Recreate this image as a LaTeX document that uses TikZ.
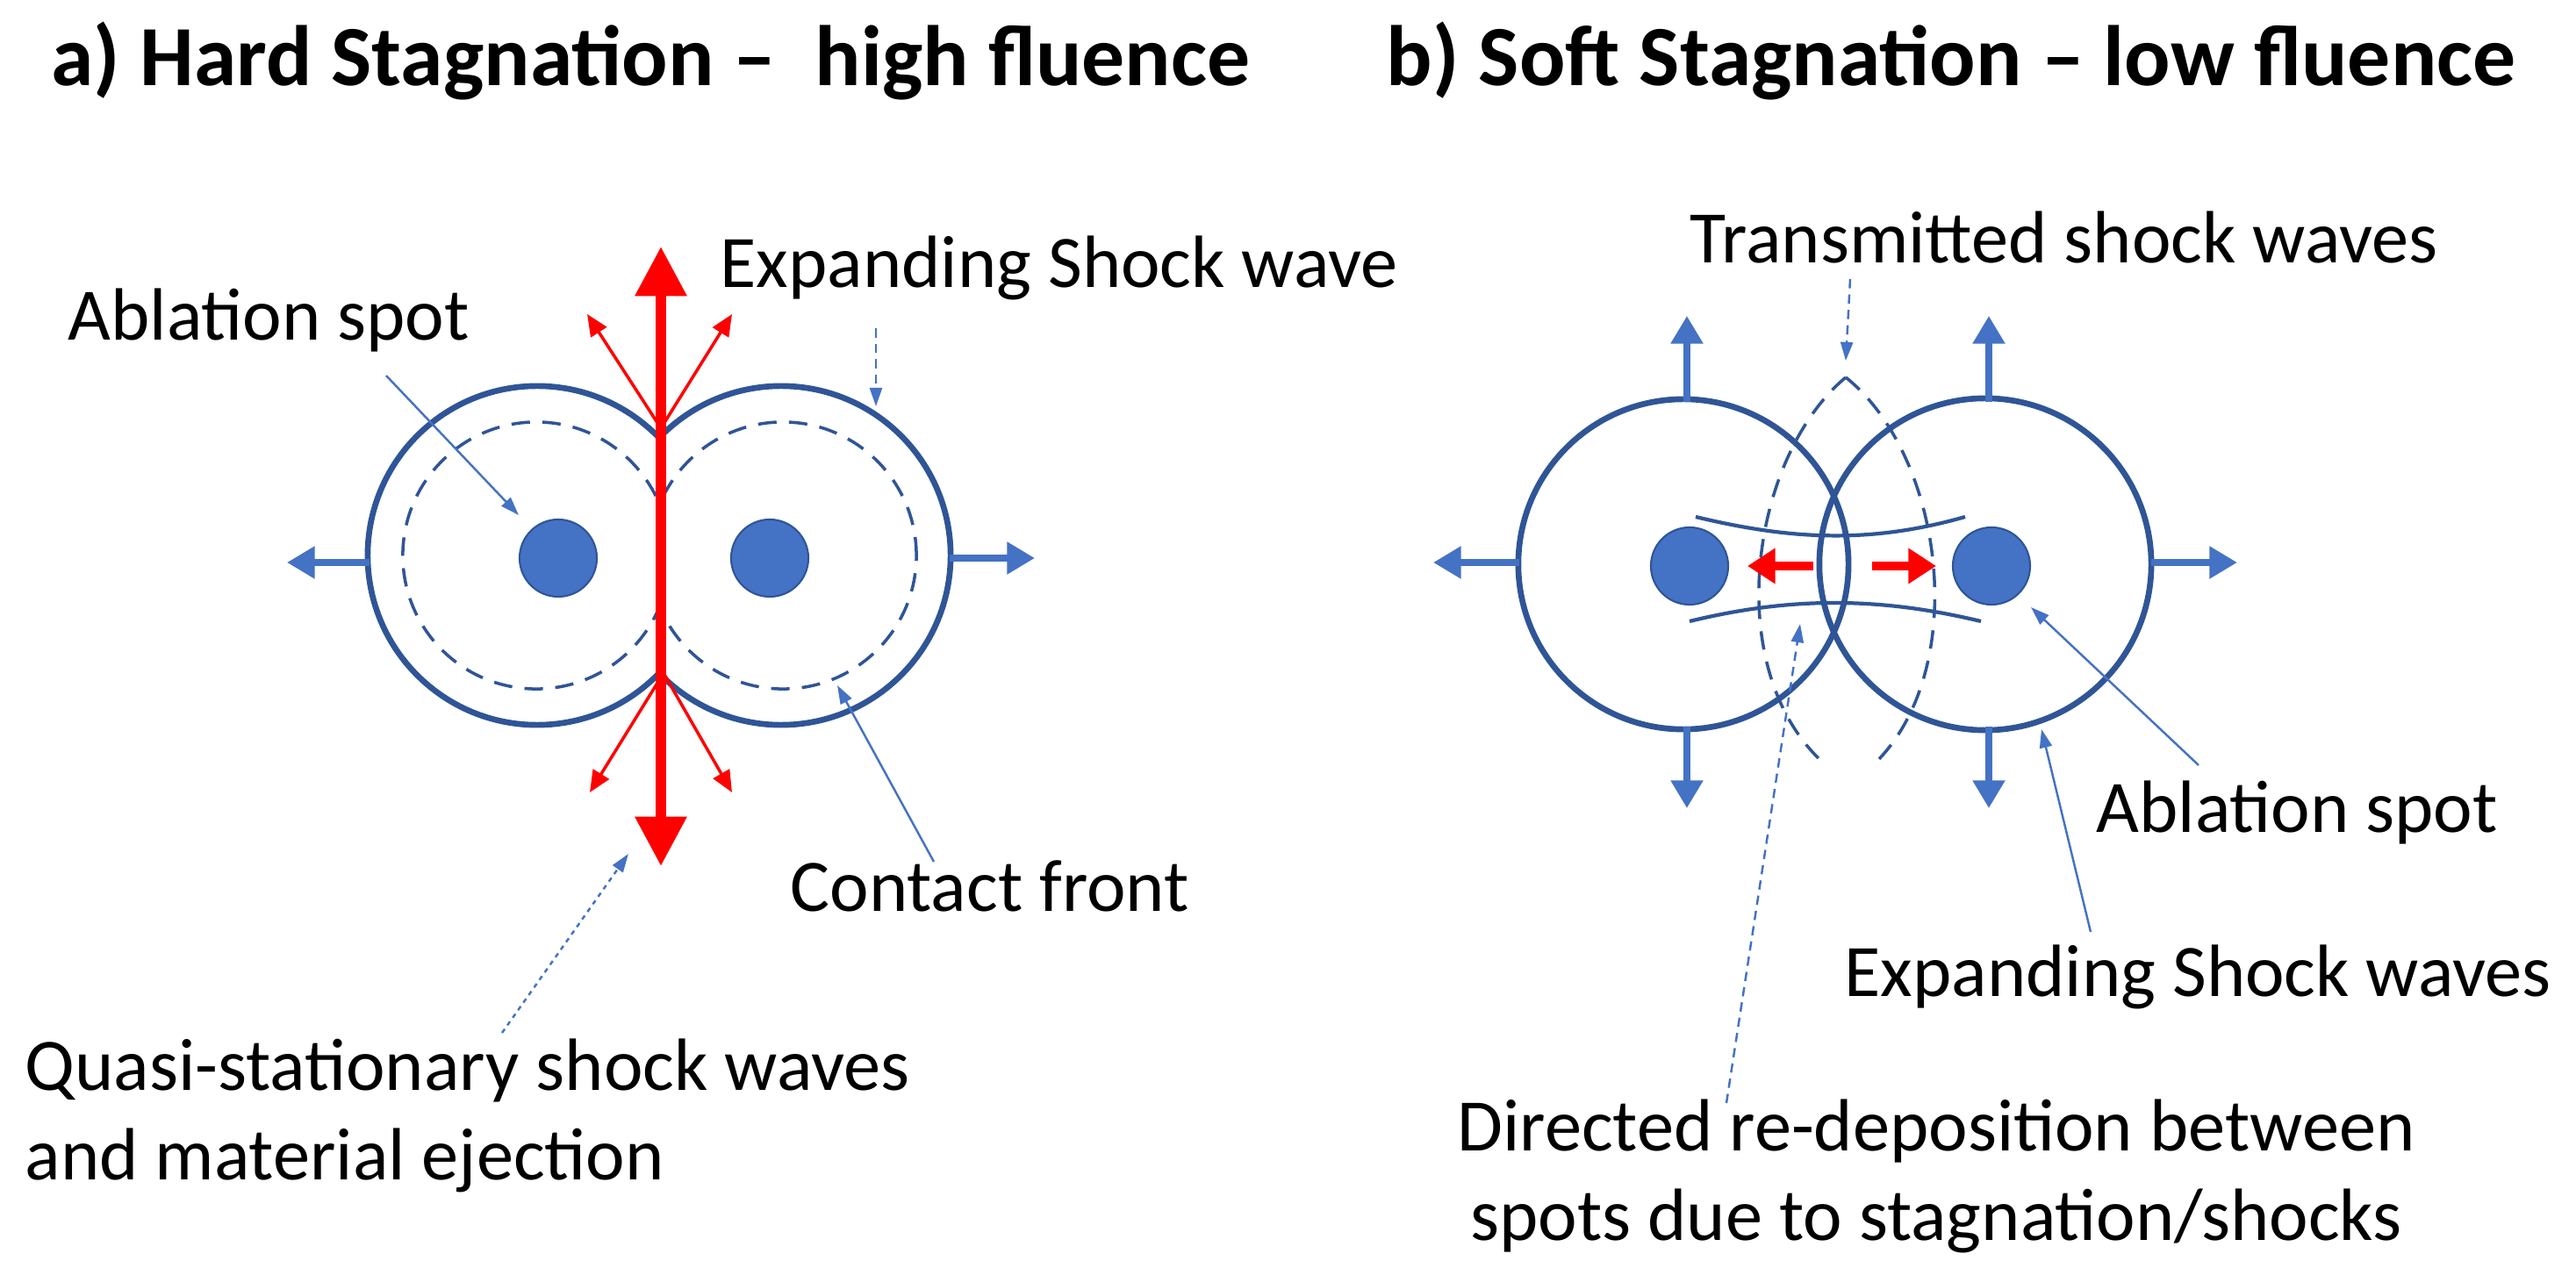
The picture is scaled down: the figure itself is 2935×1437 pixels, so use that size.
\documentclass[tikz,border=0pt]{standalone}
\usepackage{fontspec}
\setmainfont{Carlito}
\usetikzlibrary{arrows.meta}
\definecolor{ring}{HTML}{2F5597}
\definecolor{spotc}{HTML}{4472C4}
\definecolor{redc}{HTML}{FF0000}
\begin{document}
\begin{tikzpicture}[x=0.01cm,y=-0.01cm,
  ring/.style={draw=ring,line width=1.9pt},
  dring/.style={draw=ring,line width=1pt,dash pattern=on 6pt off 4pt},
  spot/.style={circle,fill=spotc,draw=ring,line width=0.6pt,minimum size=0.88cm,inner sep=0pt},
  barr/.style={draw=spotc,line width=2.2pt,-{Triangle[length=9pt,width=10pt]}},
  rarr/.style={draw=redc,line width=1pt,-{Triangle[length=7pt,width=6pt]}},
  lead/.style={draw=spotc,line width=0.7pt,-{Triangle[length=6pt,width=4pt]}},
  dlead/.style={lead,dash pattern=on 3pt off 2pt},
  lbl/.style={font=\fontsize{24}{29}\selectfont,inner sep=0pt,align=left},
  ttl/.style={font=\bfseries\fontsize{27.8}{33}\selectfont,inner sep=0pt}]
\useasboundingbox (0,0) rectangle (2935,1437);
% titles
\node[ttl,anchor=west] (ta) at (58,70) {a) Hard Stagnation --\ \ high fluence};
\node[ttl,anchor=west] (tb) at (1579,70) {b) Soft Stagnation -- low fluence};
% ---------- panel a
\begin{scope}
\clip (0,200) rectangle (753,1000);
\draw[ring] (612,633) circle (1.93cm);
\draw[dring] (611,633) circle (1.52cm);
\end{scope}
\begin{scope}
\clip (753,200) rectangle (1400,1000);
\draw[ring] (890,633) circle (1.93cm);
\draw[dring] (892,633) circle (1.52cm);
\end{scope}
\node[spot] (sa1) at (636,636) {};
\node[spot] (sa2) at (877,636) {};
\coordinate (aL) at (421,641); \coordinate (aLe) at (327,641);
\coordinate (aR) at (1082,636); \coordinate (aRe) at (1179,636);
\draw[barr] (aL) -- (aLe);
\draw[barr] (aR) -- (aRe);
\coordinate (it) at (753,488); \coordinate (ib) at (756,767);
\draw[rarr] (it) -- (669,358);
\draw[rarr] (it) -- (834,358);
\draw[rarr] (ib) -- (672,903);
\draw[rarr] (ib) -- (834,903);
\coordinate (rt) at (753,281); \coordinate (rb) at (753,987);
\draw[draw=redc,line width=3.3pt,{Triangle[length=16pt,width=16pt]}-{Triangle[length=16pt,width=16pt]}] (rt) -- (rb);
\node[lbl,anchor=west] (la1) at (77,365) {Ablation spot};
\node[lbl,anchor=west] (la2) at (820,305) {Expanding Shock wave};
\node[lbl,anchor=west] (la3) at (900,1010) {Contact front};
\node[lbl,anchor=north west] (la4) at (28,1183) {Quasi-stationary shock waves\\and material ejection};
\draw[lead] (440,428) -- (591,587);
\draw[dlead] (998,374) -- (998,463);
\draw[lead] (1064,982) -- (954,781);
\draw[lead,dash pattern=on 1.5pt off 1.5pt] (572,1177) -- (716,973);
% ---------- panel b
\draw[ring] (1918,643) circle (1.88cm);
\draw[ring] (2262,643) circle (1.89cm);
\draw[dring] (2103,430) .. controls (1995,520) and (1960,760) .. (2076,868);
\draw[dring] (2103,430) .. controls (2215,520) and (2245,760) .. (2138,868);
\draw[draw=ring,line width=1.2pt] (1932,589) .. controls (2040,615) and (2130,620) .. (2239,589);
\draw[draw=ring,line width=1.2pt] (1925,708) .. controls (2040,680) and (2140,680) .. (2257,708);
\node[spot] (sb1) at (1925,645) {};
\node[spot] (sb2) at (2269,645) {};
\draw[barr] (1922,458) -- (1922,360);
\draw[barr] (1922,828) -- (1922,921);
\draw[barr] (2266,458) -- (2266,360);
\draw[barr] (2266,828) -- (2266,921);
\draw[barr] (1731,641) -- (1633,641);
\draw[barr] (2451,641) -- (2549,641);
\draw[draw=redc,line width=2.8pt,-{Triangle[length=9pt,width=11pt]}] (2066,645) -- (1991,645);
\draw[draw=redc,line width=2.8pt,-{Triangle[length=9pt,width=11pt]}] (2133,645) -- (2206,645);
\node[lbl,anchor=west] (lb1) at (1925,271) {Transmitted shock waves};
\node[lbl,anchor=west] (lb2) at (2388,926) {Ablation spot};
\node[lbl,anchor=west] (lb3) at (2101,1113) {Expanding Shock waves};
\node[lbl,anchor=north,align=center] (lb4) at (2206,1252) {Directed re-deposition between\\spots due to stagnation/shocks};
\draw[dlead] (2108,318) -- (2103,411);
\draw[lead] (2505,872) -- (2314,692);
\draw[lead] (2382,1062) -- (2326,831);
\draw[dlead] (1967,1257) -- (2051,711);
\end{tikzpicture}
\end{document}
